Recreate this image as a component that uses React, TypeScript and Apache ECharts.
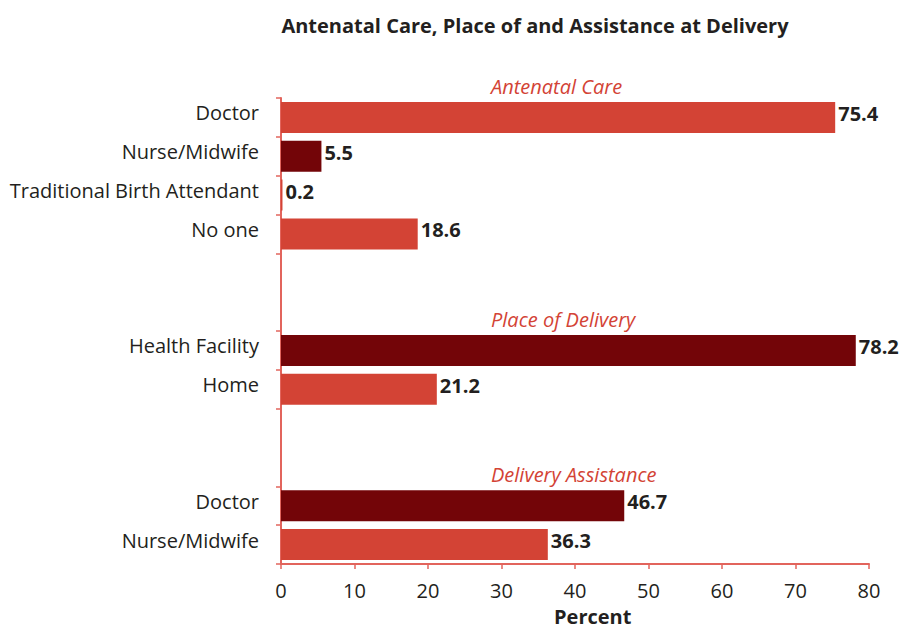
import React, { useEffect, useRef } from "react";
import * as echarts from "echarts";

const categories = [
  "Doctor",
  "Nurse/Midwife",
  "Traditional Birth Attendant",
  "No one",
  "",
  "",
  "Health Facility",
  "Home",
  "",
  "",
  "Doctor",
  "Nurse/Midwife",
];
const values: (number | null)[] = [75.4, 5.5, 0.2, 18.6, null, null, 78.2, 21.2, null, null, 46.7, 36.3];
const darkBars = [false, true, false, false, false, false, true, false, false, false, true, false];
const sectionTitles = ["Antenatal Care", "Place of Delivery", "Delivery Assistance"];
const hiddenTickIndexes = [5, 9];

const LIGHT = "#D34335";
const DARK = "#730508";
const AXIS = "#E2645C";
const TEXT = "#231F20";
const FONT = "'Open Sans', 'Noto Sans', sans-serif";

export default function App() {
  const ref = useRef<HTMLDivElement>(null);
  useEffect(() => {
    if (!ref.current) return;
    const chart = echarts.init(ref.current, undefined, { renderer: "svg" });
    chart.setOption({
      animation: false,
      textStyle: { fontFamily: FONT },
      title: {
        text: "Antenatal Care, Place of and Assistance at Delivery",
        left: 530,
        top: 10,
        textAlign: "center",
        textStyle: { fontFamily: FONT, fontSize: 20, fontWeight: "bold", color: TEXT },
      },
      grid: { left: 281, right: 35, top: 98, bottom: 65, containLabel: false },
      xAxis: {
        type: "value",
        min: 0,
        max: 80,
        interval: 10,
        axisLine: { show: true, lineStyle: { color: AXIS, width: 2 } },
        axisTick: { show: true, length: 5, lineStyle: { color: AXIS, width: 1.5 } },
        splitLine: { show: false },
        axisLabel: { color: TEXT, fontSize: 20, margin: 16, fontFamily: FONT },
      },
      yAxis: {
        type: "category",
        inverse: true,
        data: categories,
        axisLine: { show: true, lineStyle: { color: AXIS, width: 2 } },
        axisTick: {
          show: true,
          length: 5,
          lineStyle: { color: AXIS, width: 1.5 },
          interval: (index: number) => !hiddenTickIndexes.includes(index),
        },
        axisLabel: {
          color: TEXT,
          fontSize: 20,
          margin: 22,
          fontFamily: FONT,
          interval: 0,
          verticalAlign: "bottom",
          lineHeight: 9,
        },
      },
      series: [
        {
          type: "bar",
          barCategoryGap: "20%",
          data: values.map((v, i) => ({
            value: v,
            itemStyle: { color: darkBars[i] ? DARK : LIGHT },
          })),
          label: {
            show: true,
            position: "right",
            distance: 3,
            offset: [0, -4],
            color: TEXT,
            fontSize: 20,
            fontWeight: "bold",
            fontFamily: FONT,
            formatter: (p: any) => (p.value == null ? "" : p.value.toFixed(1)),
          },
        },
      ],
      graphic: [
        {
          type: "text",
          left: 491,
          top: 76,
          style: { text: sectionTitles[0], fill: LIGHT, fontSize: 20, fontStyle: "italic", fontFamily: FONT },
        },
        {
          type: "text",
          left: 491,
          top: 309,
          style: { text: sectionTitles[1], fill: LIGHT, fontSize: 20, fontStyle: "italic", fontFamily: FONT },
        },
        {
          type: "text",
          left: 491,
          top: 464,
          style: { text: sectionTitles[2], fill: LIGHT, fontSize: 20, fontStyle: "italic", fontFamily: FONT },
        },
        {
          type: "text",
          left: 554,
          top: 606,
          style: { text: "Percent", fill: TEXT, fontSize: 20, lineHeight: 20, fontWeight: "bold", fontFamily: FONT },
        },
      ],
    });
    return () => chart.dispose();
  }, []);
  return <div ref={ref} style={{ width: 904, height: 629, position: "absolute", left: 0, top: 0 }} />;
}
